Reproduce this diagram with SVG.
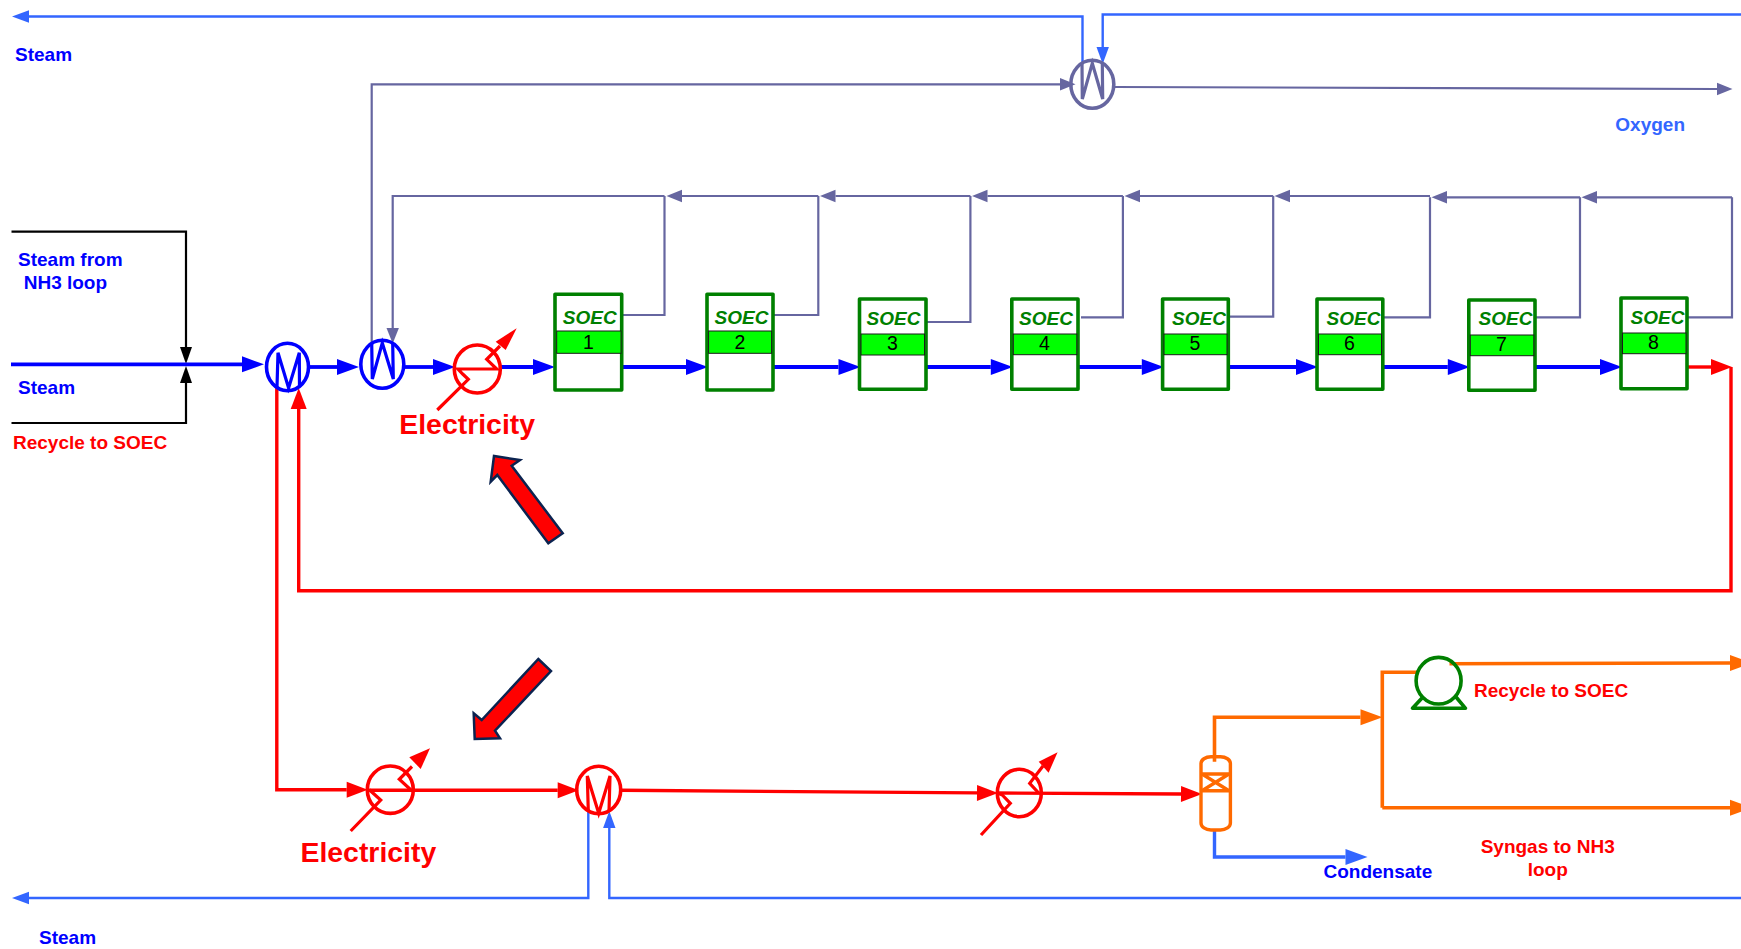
<svg xmlns="http://www.w3.org/2000/svg" width="1741" height="949" viewBox="0 0 1741 949">
<style>
text{font-family:"Liberation Sans",Arial,sans-serif;font-weight:700;font-size:19px}
.b{fill:#0000ff}.r{fill:#ff0000}.l{fill:#3366ff}
.big{font-size:28.4px}
.sf{fill:#fff;stroke:#008000;stroke-width:3.6;stroke-linejoin:round}
.band{fill:#00ff00;stroke:#1a1a1a;stroke-width:1}
.st{fill:#008000;font-style:italic;text-anchor:middle}
.num{fill:#000;font-weight:400;font-size:19.5px;text-anchor:middle}
.c{fill:none;stroke-linejoin:miter}
.cb{stroke:#0000ff;stroke-width:3.8;marker-end:url(#hb)}
.cr{stroke:#ff0000;stroke-width:3.4;marker-end:url(#hr)}
.co{stroke:#ff6a00;stroke-width:3.6;marker-end:url(#ho)}
.con{stroke:#ff6a00;stroke-width:3.6}
.clh{stroke:#3366ff;stroke-width:2.4;marker-end:url(#hl)}
.cg{stroke:#6666a0;stroke-width:2.2}
.cgh{stroke:#6666a0;stroke-width:2.2;marker-end:url(#hg)}
.ck{stroke:#000;stroke-width:2.2;marker-end:url(#hk)}
.eq{fill:none;stroke-width:3.6}
.zz{fill:none;stroke-width:3.2;stroke-linejoin:miter}
.bigarrow{fill:#ff0000;stroke:#0b2350;stroke-width:2.5}
</style>
<defs>
<marker id="hb" markerUnits="userSpaceOnUse" markerWidth="23" markerHeight="17" refX="0" refY="8.5" orient="auto" overflow="visible"><path d="M0,0.5L22,8.5L0,16.5z" fill="#0000ff"/></marker>
<marker id="hr" markerUnits="userSpaceOnUse" markerWidth="23" markerHeight="17" refX="0" refY="8.5" orient="auto" overflow="visible"><path d="M0,0.5L21,8.5L0,16.5z" fill="#ff0000"/></marker>
<marker id="ho" markerUnits="userSpaceOnUse" markerWidth="23" markerHeight="17" refX="0" refY="8.5" orient="auto" overflow="visible"><path d="M0,0.5L22,8.5L0,16.5z" fill="#ff6a00"/></marker>
<marker id="hbl" markerUnits="userSpaceOnUse" markerWidth="23" markerHeight="17" refX="0" refY="8.5" orient="auto" overflow="visible"><path d="M0,0.5L22,8.5L0,16.5z" fill="#3366ff"/></marker>
<marker id="hl" markerUnits="userSpaceOnUse" markerWidth="18" markerHeight="13" refX="0" refY="6.5" orient="auto" overflow="visible"><path d="M0,0.3L17,6.5L0,12.7z" fill="#3366ff"/></marker>
<marker id="hg" markerUnits="userSpaceOnUse" markerWidth="18" markerHeight="13" refX="0" refY="6.5" orient="auto" overflow="visible"><path d="M0,0.3L15.5,6.5L0,12.7z" fill="#6666a0"/></marker>
<marker id="hk" markerUnits="userSpaceOnUse" markerWidth="18" markerHeight="13" refX="0" refY="6.5" orient="auto" overflow="visible"><path d="M0,0.5L17,6.5L0,12.5z" fill="#000"/></marker>
</defs>
<rect width="1741" height="949" fill="#fff"/>
<g id="connectors" class="c">
<path class="c clh" d="M1082.5,63V16.5H29"/>
<path class="c clh" d="M1741,14.5H1102.7V47"/>
<path class="c cgh" d="M371.7,344V84.3H1060"/>
<path class="c cgh" d="M1115,87L1717,89"/>
<path class="c cg" d="M622,315H664.5V196"/>
<path class="c cg" d="M773,315H818.3V196"/>
<path class="c cg" d="M926,322H970.4V196"/>
<path class="c cg" d="M1081,317.3H1122.9V196"/>
<path class="c cg" d="M1228,316.7H1273.2V196"/>
<path class="c cg" d="M1383,317.3H1430V197.3"/>
<path class="c cg" d="M1535,317.3H1580V197.3"/>
<path class="c cg" d="M1687,317.3H1732V197.3"/>
<path class="c cgh" d="M1732,197.3H1597"/>
<path class="c cgh" d="M1580,197.3H1447"/>
<path class="c cgh" d="M1430,196H1290"/>
<path class="c cgh" d="M1273.2,196H1140"/>
<path class="c cgh" d="M1122.9,196H987.5"/>
<path class="c cgh" d="M970.4,196H835.5"/>
<path class="c cgh" d="M818.3,196H682"/>
<path class="c cgh" d="M664.5,196H392.7V328"/>
<path class="c ck" d="M11.5,231.7H186V347"/>
<path class="c ck" d="M11.5,423H186V383"/>
<path class="c cb" d="M11,364.3H242"/>
<path class="c cb" d="M309,367H337"/>
<path class="c cb" d="M405,367H433"/>
<path class="c cb" d="M500,367H533"/>
<path class="c cb" d="M622,367H686"/>
<path class="c cb" d="M773,367H838.5"/>
<path class="c cb" d="M926,367H990.8"/>
<path class="c cb" d="M1078,367H1141.8"/>
<path class="c cb" d="M1228,367H1296"/>
<path class="c cb" d="M1383,367H1447.8"/>
<path class="c cb" d="M1535,367H1600"/>
<path class="c cr" d="M1687,367H1711"/>
<path class="c cr" d="M1731,367V590.7H298.7V409"/>
<path class="c cr" d="M276.8,387V789.7H346.7"/>
<path class="c cr" d="M367,790.3H557.7"/>
<path class="c cr" d="M621,790.3L977,792.9"/>
<path class="c cr" d="M997,793L1181,794"/>
<path class="c co" d="M1214.5,761.7V717.3H1360.5"/>
<path class="c con" d="M1418,672.3H1382.3V807.7"/>
<path class="c co" d="M1382.3,807.7H1730"/>
<path class="c co" d="M1449.5,663.7L1730,663"/>
<path class="c" stroke="#3366ff" stroke-width="3.4" marker-end="url(#hbl)" d="M1214.5,830V857H1345.5"/>
<path class="c clh" d="M588.3,811.7V898H29"/>
<path class="c clh" d="M1741,898H609.3V828"/>
</g>
<g id="hx-top">
<ellipse class="eq" cx="1092.3" cy="84.3" rx="21.5" ry="24" stroke="#6666a0"/>
<path class="zz" stroke="#6666a0" d="M1082,63.3L1082.3,99L1092.3,63.3L1102.7,99L1102.3,63.3"/>
</g>
<g id="mixer-1">
<ellipse class="eq" cx="287.5" cy="367" rx="21" ry="23.7" stroke="#0000ff"/>
<path class="zz" stroke="#0000ff" d="M277,386.7L278,352.7L288.6,388L299.3,352.7L299.5,387"/>
</g>
<g id="hx-2">
<ellipse class="eq" cx="382.3" cy="364.3" rx="21.5" ry="24" stroke="#0000ff"/>
<path class="zz" stroke="#0000ff" d="M371.7,343L372.3,379L382.3,343L393.3,379L392.7,343"/>
</g>
<g id="heater-1">
<ellipse class="eq" cx="477.3" cy="369" rx="23" ry="24" stroke="#ff0000"/>
<path class="zz" stroke="#ff0000" d="M437.3,410L468.3,379.3L462.7,374L458,369H496.7L486.7,359.3L500,346"/>
<path fill="#ff0000" d="M516.7,328.3L495.7,341.7L505.7,350z"/>
</g>
<g id="soec-1"><rect class="sf" x="555" y="294.3" width="66.7" height="95.7"/><rect class="band" x="556.7" y="331" width="64.3" height="22.3"/><text class="st" x="589.7" y="324">SOEC</text><text class="num" x="588.5" y="348.5">1</text></g>
<g id="soec-2"><rect class="sf" x="707" y="294.3" width="66" height="95.7"/><rect class="band" x="708.6" y="331" width="63" height="22.3"/><text class="st" x="741.5" y="324">SOEC</text><text class="num" x="740" y="348.5">2</text></g>
<g id="soec-3"><rect class="sf" x="859.5" y="299" width="66.5" height="90.3"/><rect class="band" x="861" y="334" width="63.5" height="21"/><text class="st" x="893.5" y="325">SOEC</text><text class="num" x="892.5" y="350.3">3</text></g>
<g id="soec-4"><rect class="sf" x="1011.8" y="299" width="66.2" height="90.3"/><rect class="band" x="1013.3" y="334" width="63.5" height="20.7"/><text class="st" x="1046" y="325">SOEC</text><text class="num" x="1044.5" y="350.3">4</text></g>
<g id="soec-5"><rect class="sf" x="1162.6" y="299" width="65.7" height="90.3"/><rect class="band" x="1164" y="334" width="63" height="20.7"/><text class="st" x="1199" y="325">SOEC</text><text class="num" x="1195" y="350.3">5</text></g>
<g id="soec-6"><rect class="sf" x="1317" y="299" width="65.8" height="90.3"/><rect class="band" x="1318.5" y="334" width="63" height="20.7"/><text class="st" x="1353.5" y="325">SOEC</text><text class="num" x="1349.5" y="350.3">6</text></g>
<g id="soec-7"><rect class="sf" x="1468.8" y="300" width="66.2" height="90.3"/><rect class="band" x="1470.3" y="335" width="63.5" height="20.7"/><text class="st" x="1505.5" y="325">SOEC</text><text class="num" x="1501.5" y="351.3">7</text></g>
<g id="soec-8"><rect class="sf" x="1621" y="298" width="66" height="90.7"/><rect class="band" x="1622.5" y="333" width="63.5" height="20.7"/><text class="st" x="1657.5" y="324">SOEC</text><text class="num" x="1653.5" y="349.3">8</text></g>
<g id="heater-2">
<ellipse class="eq" cx="390.3" cy="789.7" rx="23" ry="23.7" stroke="#ff0000"/>
<path class="zz" stroke="#ff0000" d="M350.7,831L380.7,800L374,794L369.3,789.7M410.7,789.7L399.3,779.3L412,766.5"/>
<path fill="#ff0000" d="M430,748.3L409.3,757.3L420.7,769z"/>
</g>
<g id="mixer-2">
<ellipse class="eq" cx="598.7" cy="790" rx="22" ry="23.7" stroke="#ff0000"/>
<path class="zz" stroke="#ff0000" d="M588.3,811.7L587.3,776L598.7,813.3L610,776L609,811.7"/>
</g>
<g id="heater-3">
<ellipse class="eq" cx="1019.3" cy="793" rx="22" ry="23.7" stroke="#ff0000"/>
<path class="zz" stroke="#ff0000" d="M981,835L1010.3,803.3L1002.3,795L997.4,793M1038.7,793L1029.7,783.3L1043,766"/>
<path fill="#ff0000" d="M1057.6,752.3L1038.7,761.7L1048.6,772.7z"/>
</g>
<g id="separator">
<rect x="1201" y="756.7" width="29.4" height="73.3" rx="10" ry="7" fill="none" stroke="#ff6a00" stroke-width="3.4"/>
<path fill="none" stroke="#ff6a00" stroke-width="3.4" d="M1201,774H1230.4M1201,790.7H1230.4M1202,774L1229,790.7M1229,774L1202,790.7"/>
</g>
<g id="pump">
<ellipse cx="1438.6" cy="680.7" rx="22.5" ry="23.3" fill="none" stroke="#008000" stroke-width="3.6"/>
<path fill="none" stroke="#008000" stroke-width="3.6" stroke-linejoin="round" d="M1423,697L1412.5,708.3H1465.5L1456,697"/>
</g>
<g id="callout-arrows">
<path class="bigarrow" d="M562.7,533.3L548.3,543.3L497.3,475L490.7,481.7L494,456L520,460L511.7,465.7z"/>
<path class="bigarrow" d="M538.3,659L551,671L495,730.7L500,738.3L474.7,739L473.7,713.3L481.7,720z"/>
</g>
<g id="labels">
<text class="b" x="15" y="61">Steam</text>
<text class="l" x="1615.3" y="131">Oxygen</text>
<text class="b" x="18" y="266">Steam from</text>
<text class="b" x="23.7" y="289.3">NH3 loop</text>
<text class="b" x="18" y="394">Steam</text>
<text class="r" x="13" y="449">Recycle to SOEC</text>
<text class="r big" x="399.3" y="434">Electricity</text>
<text class="r big" x="300.5" y="862">Electricity</text>
<text class="r" x="1474" y="696.7">Recycle to SOEC</text>
<text class="r" x="1547.7" y="853.3" text-anchor="middle">Syngas to NH3</text>
<text class="r" x="1547.7" y="876" text-anchor="middle">loop</text>
<text class="b" x="1323.5" y="878.3">Condensate</text>
<text class="b" x="39" y="944">Steam</text>
</g>
</svg>
